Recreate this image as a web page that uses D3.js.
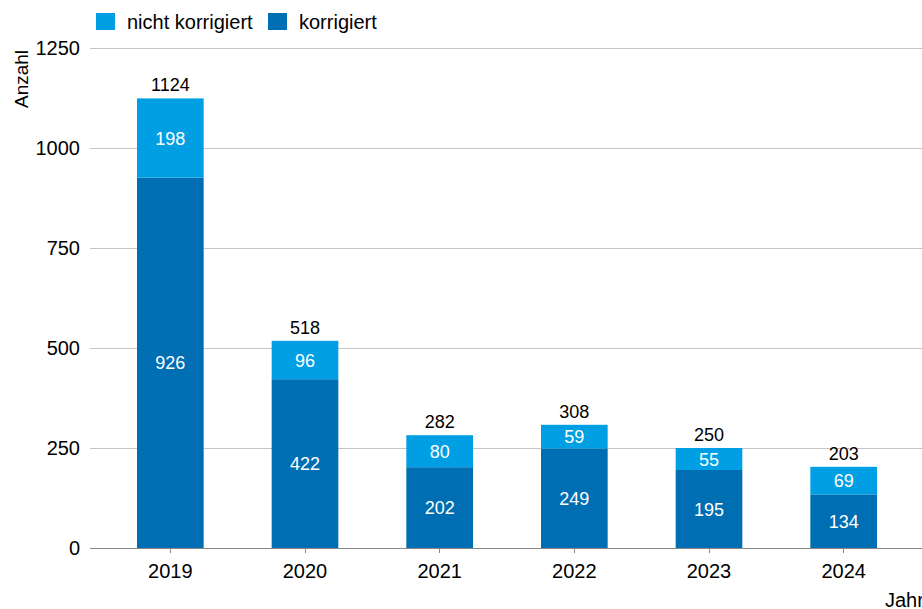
<!DOCTYPE html>
<html><head><meta charset="utf-8">
<script src="https://cdn.jsdelivr.net/npm/d3@7"></script>
<style>body{margin:0;background:#fff;} svg{display:block;font-family:"Liberation Sans",Arial,sans-serif;}</style>
</head><body>
<svg id="c" width="922" height="609"></svg>
<script>
const years = ["2019","2020","2021","2022","2023","2024"];
const korrigiert = [926,422,202,249,195,134];
const nichtKorrigiert = [198,96,80,59,55,69];
const totals = [1124,518,282,308,250,203];
const yTicks = [0,250,500,750,1000,1250];
const seriesNames = ["nicht korrigiert","korrigiert"];
const colors = {light:"#009FE3", dark:"#006EB2"};

const svg = d3.select("#c");
const x = d3.scaleBand().domain(years).range([103,911]).paddingInner(0.505).paddingOuter(0.2525);
const y = d3.scaleLinear().domain([0,1250]).range([548,48]);

// gridlines
svg.append("g").selectAll("line").data(yTicks.filter(d=>d>0)).join("line")
  .attr("x1",90).attr("x2",922).attr("y1",d=>y(d)).attr("y2",d=>y(d))
  .attr("stroke","#c4c4c4").attr("stroke-width",1).attr("shape-rendering","crispEdges");

// y labels
svg.append("g").selectAll("text").data(yTicks).join("text")
  .attr("x",80).attr("y",d=>y(d)+7).attr("text-anchor","end")
  .attr("font-size",20).attr("fill","#000").text(d=>d);

const data = years.map((yr,i)=>({yr,k:korrigiert[i],n:nichtKorrigiert[i],t:totals[i]}));

// bars
const g = svg.append("g");
g.selectAll("rect.k").data(data).join("rect")
  .attr("x",d=>x(d.yr)).attr("width",x.bandwidth())
  .attr("y",d=>y(d.k)).attr("height",d=>y(0)-y(d.k)).attr("fill",colors.dark);
g.selectAll("rect.n").data(data).join("rect")
  .attr("x",d=>x(d.yr)).attr("width",x.bandwidth())
  .attr("y",d=>y(d.k+d.n)).attr("height",d=>y(d.k)-y(d.k+d.n)).attr("fill",colors.light);

// inner labels
g.selectAll("text.k").data(data).join("text")
  .attr("x",d=>x(d.yr)+x.bandwidth()/2).attr("y",d=>(y(0)+y(d.k))/2+6.5)
  .attr("text-anchor","middle").attr("font-size",18).attr("fill","#fff").text(d=>d.k);
g.selectAll("text.n").data(data).join("text")
  .attr("x",d=>x(d.yr)+x.bandwidth()/2).attr("y",d=>(y(d.k)+y(d.k+d.n))/2+6.5)
  .attr("text-anchor","middle").attr("font-size",18).attr("fill","#fff").text(d=>d.n);
g.selectAll("text.t").data(data).join("text")
  .attr("x",d=>x(d.yr)+x.bandwidth()/2).attr("y",d=>y(d.t)-7)
  .attr("text-anchor","middle").attr("font-size",18).attr("fill","#000").text(d=>d.t);

// x axis baseline
svg.append("line").attr("x1",90).attr("x2",922).attr("y1",y(0)).attr("y2",y(0))
  .attr("stroke","#888").attr("stroke-width",1).attr("shape-rendering","crispEdges");
svg.append("g").selectAll("line").data(years).join("line")
  .attr("x1",d=>x(d)+x.bandwidth()/2).attr("x2",d=>x(d)+x.bandwidth()/2)
  .attr("y1",y(0)).attr("y2",y(0)+5).attr("stroke","#888").attr("shape-rendering","crispEdges");
svg.append("g").selectAll("text").data(years).join("text")
  .attr("x",d=>x(d)+x.bandwidth()/2).attr("y",578).attr("text-anchor","middle")
  .attr("font-size",20).attr("fill","#000").text(d=>d);

// axis titles
svg.append("text").attr("transform","translate(28,79) rotate(-90)").attr("text-anchor","middle")
  .attr("font-size",19).attr("fill","#000").text("Anzahl");
svg.append("text").attr("x",885).attr("y",607).attr("font-size",20).attr("fill","#000").text("Jahr");

// legend
const leg = svg.append("g");
const legX = [96,268];
const legC = [colors.light, colors.dark];
seriesNames.forEach((s,i)=>{
  leg.append("rect").attr("x",legX[i]).attr("y",13).attr("width",19).attr("height",17).attr("fill",legC[i]);
  leg.append("text").attr("x",legX[i]+31).attr("y",29).attr("font-size",20).attr("fill","#000").text(s);
});
</script>
</body></html>
